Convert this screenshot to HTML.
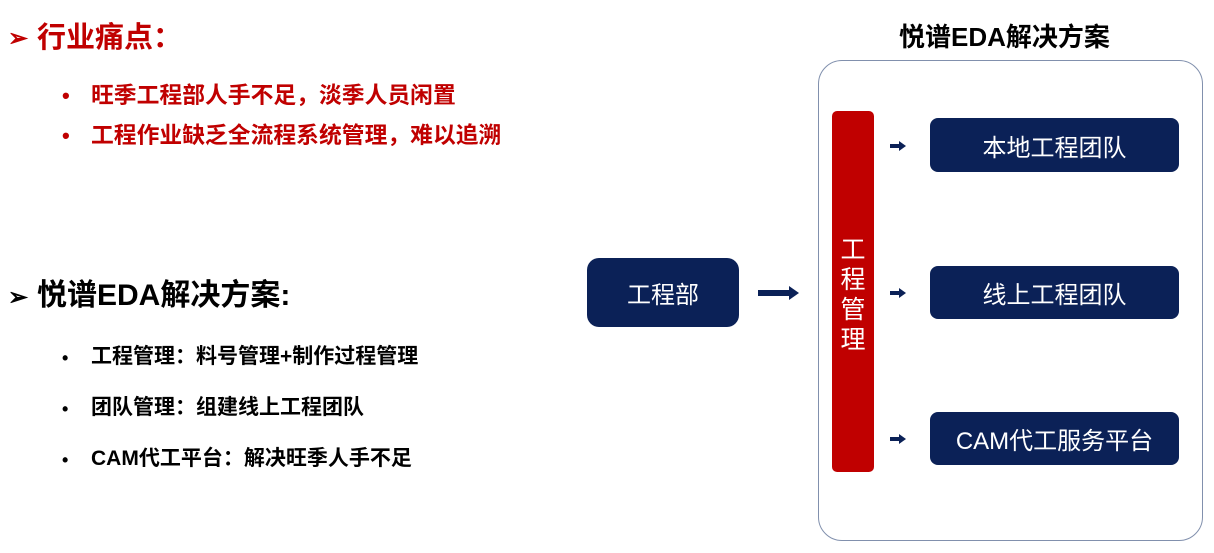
<!DOCTYPE html>
<html><head><meta charset="utf-8"><style>
*{margin:0;padding:0;box-sizing:border-box}
body{width:1214px;height:553px;background:#fff;position:relative;overflow:hidden;font-family:"Liberation Sans","Noto Sans CJK SC",sans-serif}
.a{position:absolute;white-space:nowrap}
.red{color:#c00000;font-weight:bold}
.blk{color:#000;font-weight:bold}
.box{position:absolute;background:#0b2157;color:#fff;border-radius:8px;display:flex;align-items:center;justify-content:center;font-size:24px}
.sa{position:absolute;width:16px;height:10px}
</style></head><body>
<div class="a red" style="left:8px;top:22px;font-size:24px;line-height:34px">➢</div>
<div class="a red" style="left:37px;top:19px;font-size:29px;line-height:38px">行业痛点：</div>
<div class="a red" style="left:62px;top:81px;font-size:22px;line-height:30px">•</div>
<div class="a red" style="left:91px;top:80px;font-size:22.8px;line-height:30px">旺季工程部人手不足，淡季人员闲置</div>
<div class="a red" style="left:62px;top:121px;font-size:22px;line-height:30px">•</div>
<div class="a red" style="left:91px;top:120px;font-size:22.8px;line-height:30px">工程作业缺乏全流程系统管理，难以追溯</div>
<div class="a blk" style="left:8px;top:281px;font-size:24px;line-height:34px">➢</div>
<div class="a blk" style="left:37px;top:277px;font-size:30px;line-height:38px">悦谱EDA解决方案:</div>
<div class="a blk" style="left:62px;top:344px;font-size:18px;line-height:28px">•</div>
<div class="a blk" style="left:91px;top:343px;font-size:21px;line-height:28px">工程管理：料号管理+制作过程管理</div>
<div class="a blk" style="left:62px;top:395px;font-size:18px;line-height:28px">•</div>
<div class="a blk" style="left:91px;top:394px;font-size:21px;line-height:28px">团队管理：组建线上工程团队</div>
<div class="a blk" style="left:62px;top:446px;font-size:18px;line-height:28px">•</div>
<div class="a blk" style="left:91px;top:445px;font-size:21px;line-height:28px">CAM代工平台：解决旺季人手不足</div>
<div class="a blk" style="left:899px;top:20px;font-size:26px;line-height:34px">悦谱EDA解决方案</div>
<div style="position:absolute;left:818px;top:60px;width:385px;height:481px;border:1.5px solid #8190ad;border-radius:24px"></div>
<div class="box" style="left:587px;top:258px;width:152px;height:69px;border-radius:12px">工程部</div>
<svg style="position:absolute;left:758px;top:285px" width="42" height="16"><rect x="0" y="5" width="32" height="6" fill="#0b2157"/><polygon points="31,1 41,8 31,15" fill="#0b2157"/></svg>
<div style="position:absolute;left:832px;top:111px;width:42px;height:361px;background:#c00000;border-radius:5px"></div>
<div class="a" style="left:832px;top:235px;width:42px;text-align:center;color:#fff;font-size:25px;line-height:30px;white-space:normal">工<br>程<br>管<br>理</div>
<div class="box" style="left:930px;top:118px;width:249px;height:54px">本地工程团队</div>
<div class="box" style="left:930px;top:266px;width:249px;height:53px">线上工程团队</div>
<div class="box" style="left:930px;top:412px;width:249px;height:53px">CAM代工服务平台</div>
<svg class="sa" style="left:890px;top:141px" viewBox="0 0 16 10"><rect x="0" y="3" width="10" height="4" fill="#0b2157"/><polygon points="9,0 16,5 9,10" fill="#0b2157"/></svg>
<svg class="sa" style="left:890px;top:288px" viewBox="0 0 16 10"><rect x="0" y="3" width="10" height="4" fill="#0b2157"/><polygon points="9,0 16,5 9,10" fill="#0b2157"/></svg>
<svg class="sa" style="left:890px;top:434px" viewBox="0 0 16 10"><rect x="0" y="3" width="10" height="4" fill="#0b2157"/><polygon points="9,0 16,5 9,10" fill="#0b2157"/></svg>
</body></html>
